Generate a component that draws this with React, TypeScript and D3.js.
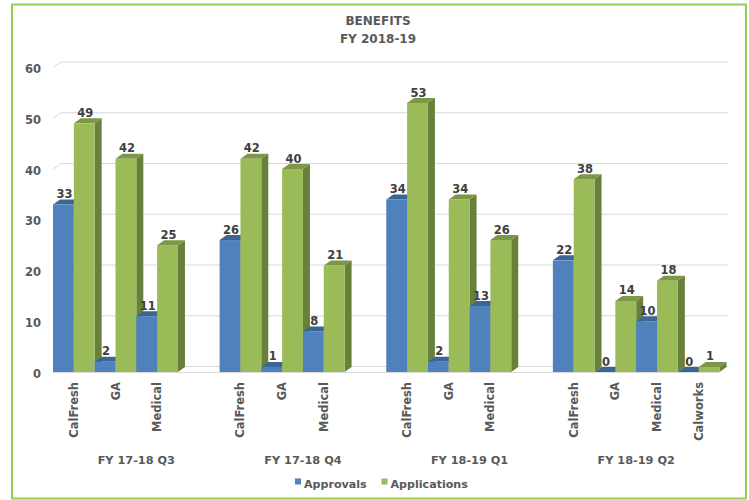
import React from "react";
import * as d3 from "d3";

const groups = ["FY 17-18 Q3", "FY 17-18 Q4", "FY 18-19 Q1", "FY 18-19 Q2"];
const groupCategories = [
  ["CalFresh", "GA", "Medical", ""],
  ["CalFresh", "GA", "Medical", ""],
  ["CalFresh", "GA", "Medical", ""],
  ["CalFresh", "GA", "Medical", "Calworks"],
];
const approvals = [
  [33, 2, 11, null],
  [26, 1, 8, null],
  [34, 2, 13, null],
  [22, 0, 10, 0],
];
const applications = [
  [49, 42, 25, null],
  [42, 40, 21, null],
  [53, 34, 26, null],
  [38, 14, 18, 1],
];
const yTicks = [0, 10, 20, 30, 40, 50, 60];
const seriesNames = ["Approvals", "Applications"];

const W = 749;
const H = 500;
const FONT = "'DejaVu Sans', Verdana, sans-serif";
const LABEL = "#595959";

const palette = [
  { front: "#4F81BD", top: "#3C6594", side: "#345985" },
  { front: "#9BBB59", top: "#7C9746", side: "#67803A" },
];

export default function App() {
  const slots = groups.flatMap((g, gi) => groupCategories[gi].map((c, ci) => `${gi}-${ci}`));
  const x = d3.scaleBand<string>().domain(slots).range([53, 719.5]).padding(0);
  const y = d3.scaleLinear().domain([0, 60]).range([372, 67.5]);
  const bw = x.bandwidth() / 2;
  const bdx = 7, bdy = -5;
  const wdx = 8, wdy = -5.5;
  const x0 = 53, x1 = 719.5;

  const bars: any[] = [];
  groups.forEach((g, gi) => {
    groupCategories[gi].forEach((c, ci) => {
      const key = `${gi}-${ci}`;
      [approvals[gi][ci], applications[gi][ci]].forEach((v, si) => {
        if (v === null || v === undefined) return;
        bars.push({ key: `${key}-${si}`, x: (x(key) as number) + si * bw, v, si });
      });
    });
  });

  return (
    <svg width={W} height={H} style={{ display: "block", position: "absolute", left: 0, top: 0 }}>
      <rect x={0} y={0} width={W} height={H} fill="#fff" />
      <rect x={12} y={4.5} width={734} height={494} fill="none" stroke="#92D050" strokeWidth={2} />
      <text x={378} y={24.5} textAnchor="middle" fontFamily={FONT} fontWeight="bold" fontSize={12} fill={LABEL}>BENEFITS</text>
      <text x={378} y={42.5} textAnchor="middle" fontFamily={FONT} fontWeight="bold" fontSize={12} fill={LABEL}>FY 2018-19</text>

      {yTicks.map((t) => (
        <g key={t}>
          <line x1={x0} y1={y(t)} x2={x0 + wdx} y2={y(t) + wdy} stroke="#D9D9D9" strokeWidth={1} />
          <line x1={x0 + wdx} y1={y(t) + wdy} x2={x1 + wdx} y2={y(t) + wdy} stroke="#D9D9D9" strokeWidth={1} />
          <text x={41} y={y(t) + 1.5} dy="0.35em" textAnchor="end" fontFamily={FONT} fontWeight="bold" fontSize={11.5} fill={LABEL}>{t}</text>
        </g>
      ))}
      <line x1={x0} y1={y(0) + 0.5} x2={x1} y2={y(0) + 0.5} stroke="#D9D9D9" strokeWidth={1} />

      {bars.map((b) => {
        const c = palette[b.si];
        const yt = y(b.v);
        const yb = y(0);
        const xr = b.x + bw;
        return (
          <g key={b.key}>
            <polygon points={`${xr},${yt} ${xr + bdx},${yt + bdy} ${xr + bdx},${yb + bdy} ${xr},${yb}`} fill={c.side} />
            <polygon points={`${b.x},${yt} ${b.x + bdx},${yt + bdy} ${xr + bdx},${yt + bdy} ${xr},${yt}`} fill={c.top} />
            <rect x={b.x} y={yt} width={bw} height={yb - yt} fill={c.front} />
          </g>
        );
      })}

      {bars.map((b) => (
        <text key={`l-${b.key}`} x={b.x + bw / 2 + 1} y={y(b.v) + bdy - 1.5} textAnchor="middle" fontFamily={FONT} fontWeight="bold" fontSize={11.5} fill="#404040">{b.v}</text>
      ))}

      {slots.map((s) => {
        const [gi, ci] = s.split("-").map(Number);
        const name = groupCategories[gi][ci];
        if (!name) return null;
        const cx = (x(s) as number) + x.bandwidth() / 2;
        return (
          <text key={`c-${s}`} transform={`translate(${cx},382) rotate(-90)`} dy="0.35em" textAnchor="end" fontFamily={FONT} fontWeight="bold" fontSize={11.5} fill={LABEL}>{name}</text>
        );
      })}

      {groups.map((g, gi) => {
        const first = x(`${gi}-0`) as number;
        const last = (x(`${gi}-3`) as number) + x.bandwidth();
        return (
          <text key={g} x={(first + last) / 2} y={464} textAnchor="middle" fontFamily={FONT} fontWeight="bold" fontSize={11.3} fill={LABEL}>{g}</text>
        );
      })}

      {seriesNames.map((n, i) => {
        const lx = i === 0 ? 295 : 381.5;
        return (
          <g key={n}>
            <rect x={lx} y={478.5} width={6} height={6} fill={palette[i].front} />
            <text x={lx + 9} y={488} fontFamily={FONT} fontWeight="bold" fontSize={11.1} fill={LABEL}>{n}</text>
          </g>
        );
      })}
    </svg>
  );
}
